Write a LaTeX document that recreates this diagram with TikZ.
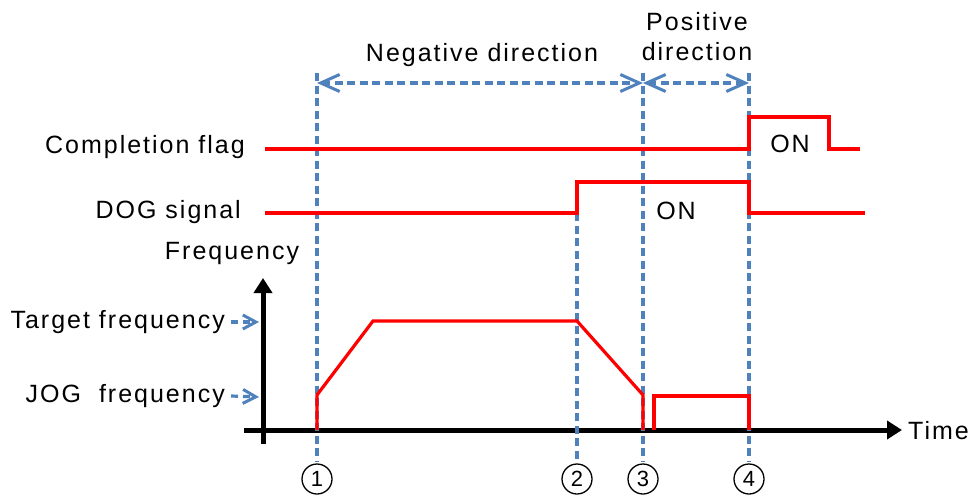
\documentclass[tikz,border=0pt]{standalone}
\usepackage{fontspec}
\setmainfont{Liberation Sans}
\newfontfamily\lblfont[LetterSpace=8]{Liberation Sans}
\usetikzlibrary{arrows.meta}
\definecolor{gdblue}{RGB}{79,129,189}
\tikzset{
  gdlabel/.style={font=\lblfont\fontsize{25}{29}\selectfont, inner sep=0pt},
  gdguide/.style={gdblue, line width=3.6pt, dash pattern=on 8pt off 4.5pt},
  gdspan/.style={gdguide, {Straight Barb[length=19pt,width=17pt,line width=3pt]}-{Straight Barb[length=19pt,width=17pt,line width=3pt]}},
  gdlevel/.style={gdblue, line width=3.2pt, dash pattern=on 7pt off 5pt, -{Straight Barb[length=13pt,width=14pt,line width=3pt]}},
  gdwave/.style={red, line width=3.2pt},
  gdaxis/.style={black, line width=5pt, -{Triangle[length=15pt,width=18pt]}},
  gdmark/.style={circle, draw=black, line width=1.3pt, minimum size=30pt, inner sep=0pt, font=\fontsize{22}{24}\selectfont}
}

\begin{document}
\begin{tikzpicture}[x=1pt, y=-1pt]
\useasboundingbox (0,0) rectangle (973,495);

% time marks
\node[gdmark] (m1) at (317,479) {1};
\node[gdmark] (m2) at (577,479) {2};
\node[gdmark] (m3) at (643,479) {3};
\node[gdmark] (m4) at (749,479) {4};

\coordinate (t1) at (317,73);
\coordinate (t2) at (577,213);
\coordinate (t3) at (643,73);
\coordinate (t4) at (749,73);

% axes
\coordinate (o) at (263,430);
\coordinate (ybot) at (263,444);
\coordinate (ytop) at (263,278);
\coordinate (xleft) at (244,430);
\coordinate (xright) at (902,430);
\draw[gdaxis] (ybot) -- (ytop);
\draw[gdaxis] (xleft) -- (xright);

\node[gdlabel, anchor=west] (time) at (908,431) {Time};
\node[gdlabel] (freq) at (232,253) {Frequency};
\node[gdlabel, anchor=east] (ftarget) at (225,322) {Target frequency};
\node[gdlabel, anchor=east] (fjog) at (225,396) {JOG\ \ frequency};
\node[gdlabel, anchor=east] (cflag) at (245,147) {Completion flag};
\node[gdlabel, anchor=east] (dog) at (241,212) {DOG signal};

\coordinate (ltarget) at (259,322);
\coordinate (ljog) at (259,397);
\draw[gdlevel] (ftarget.east) ++(6,0) -- (ltarget);
\draw[gdlevel] (fjog.east) ++(6,0) -- (ljog);

% guide lines
\draw[gdguide] (t1) -- (317,461);
\draw[gdguide] (t2) -- (577,461);
\draw[gdguide] (t3) -- (643,461);
\draw[gdguide] (t4) -- (749,461);

% direction spans
\coordinate (s1) at (317,83);
\coordinate (s3) at (643,83);
\coordinate (s4) at (749,83);
\draw[gdspan] (s1) -- (s3);
\draw[gdspan] (s3) -- (s4);
\node[gdlabel] (neg) at (482,55) {Negative direction};
\node[gdlabel] (pos) at (697,22) {Positive};
\node[gdlabel] (posdir) at (697,52) {direction};

% completion flag
\draw[gdwave] (265,149) -- (749,149) -- (749,117) -- (829,117) -- (829,149) -- (860,149);
\node[gdlabel] (con) at (790,144) {ON};

% DOG signal
\draw[gdwave] (265,213) -- (577,213) -- (577,182) -- (749,182) -- (749,213) -- (865,213);
\node[gdlabel] (don) at (676,211) {ON};

% frequency profile
\draw[gdwave] (317,430) -- (317,395) -- (373,321) -- (577,321) -- (643,395) -- (643,430);
\draw[gdwave] (654,430) -- (654,396) -- (749,396) -- (749,430);
\end{tikzpicture}
\end{document}
